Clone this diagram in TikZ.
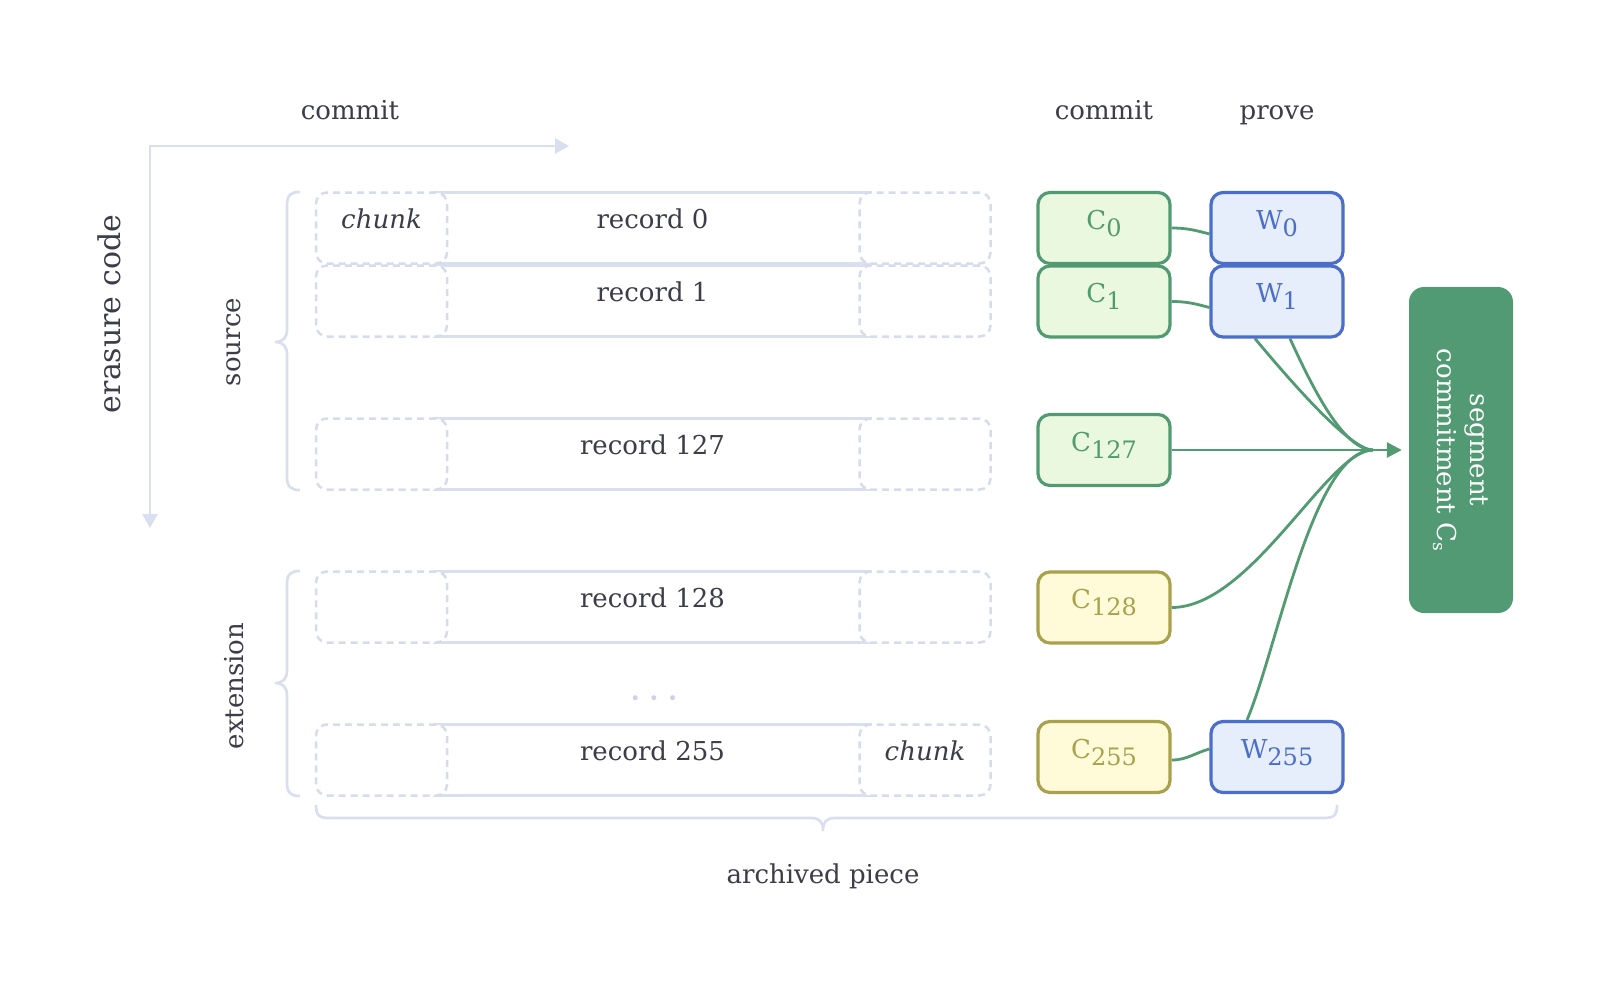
\documentclass[tikz,border=0pt]{standalone}
\usepackage{fontspec}
\setmainfont{DejaVu Serif}
\usetikzlibrary{arrows.meta,calc,backgrounds}
\definecolor{ink}{HTML}{3C3D48}
\definecolor{pale}{HTML}{D9DFEF}
\definecolor{paledash}{HTML}{D6DCEC}
\definecolor{dotc}{HTML}{CDD3E6}
\definecolor{gdraw}{HTML}{529A72}
\definecolor{gfill}{HTML}{EBF8E0}
\definecolor{bdraw}{HTML}{4C6ECB}
\definecolor{bfill}{HTML}{E6EEFC}
\definecolor{ydraw}{HTML}{A9A14B}
\definecolor{yfill}{HTML}{FFFBD9}
\definecolor{segc}{HTML}{519A73}
\newcommand{\sub}[1]{\raisebox{-7pt}{\fontsize{24}{24}\selectfont #1}}
\begin{document}
\begin{tikzpicture}[x=1pt,y=1pt,
  lbl/.style={text=ink, font=\fontsize{26}{30}\selectfont, inner sep=0pt},
  recbox/.style={draw=pale, line width=2.7pt, minimum width=437pt, minimum height=71pt, inner sep=0pt,
     text=ink, text height=10pt, text depth=10pt, font=\fontsize{26}{30}\selectfont},
  chunkbox/.style={draw=paledash, line width=2.5pt, dash pattern=on 7pt off 5pt, fill=white,
     rounded corners=11pt, minimum width=131pt, minimum height=71pt, inner sep=0pt,
     text=ink, text height=10pt, text depth=10pt, font=\fontsize{26}{30}\selectfont\itshape},
  cbox/.style={rounded corners=12pt, line width=3.2pt, minimum width=132pt, minimum height=71pt,
     inner sep=0pt, text height=12pt, text depth=10pt, font=\fontsize{26}{30}\selectfont},
  gbox/.style={cbox, draw=gdraw, fill=gfill, text=gdraw},
  bbox/.style={cbox, draw=bdraw, fill=bfill, text=bdraw},
  ybox/.style={cbox, draw=ydraw, fill=yfill, text=ydraw},
  conn/.style={draw=gdraw, line width=2.8pt},
  paleline/.style={draw=pale, line width=2.7pt},
]
\useasboundingbox (0,0) rectangle (1600,-986);

% axes
\draw[paleline, {Triangle[length=14pt,width=15pt]}-{Triangle[length=14pt,width=15pt]}]
  (569,-146) -- (150,-146) -- (150,-528);
\node[lbl, anchor=base] (commitL) at (350,-119) {commit};
\node[lbl, font=\fontsize{30}{34}\selectfont, rotate=90] (erasure) at (109,-314) {erasure code};
\node[lbl, rotate=90] (source) at (234,-342) {source};
\node[lbl, rotate=90] (extension) at (234,-686) {extension};
\node[lbl, anchor=base] (commitR) at (1104,-119) {commit};
\node[lbl, anchor=base] (prove) at (1277,-119) {prove};
\node[lbl] (archived) at (823,-876) {archived piece};

% braces
\draw[paleline] (300,-192) .. controls (291,-192) and (287,-195) .. (287,-205) -- (287,-329)
  .. controls (287,-338) and (283,-342) .. (275,-342)
  .. controls (283,-342) and (287,-346) .. (287,-355) -- (287,-477)
  .. controls (287,-487) and (291,-490) .. (300,-490);
\draw[paleline] (300,-571) .. controls (291,-571) and (287,-574) .. (287,-584) -- (287,-670)
  .. controls (287,-679) and (283,-683) .. (275,-683)
  .. controls (283,-683) and (287,-687) .. (287,-696) -- (287,-783)
  .. controls (287,-793) and (291,-796) .. (300,-796);
\draw[paleline] (316,-805) .. controls (316,-815) and (319,-818) .. (329,-818) -- (811,-818)
  .. controls (820,-818) and (823,-822) .. (823,-831)
  .. controls (823,-822) and (826,-818) .. (835,-818) -- (1324,-818)
  .. controls (1334,-818) and (1337,-815) .. (1337,-805);

% records
\node[recbox] (r0) at (652.5,-228) {record 0};
\node[recbox] (r1) at (652.5,-301) {record 1};
\node[recbox] (r127) at (652.5,-454) {record 127};
\node[recbox] (r128) at (652.5,-607) {record 128};
\node[recbox] (r255) at (652.5,-760) {record 255};
\node[chunkbox] (l0) at (381.5,-228) {chunk};
\node[chunkbox] (e0) at (925,-228) {};
\node[chunkbox] (l1) at (381.5,-301) {};
\node[chunkbox] (e1) at (925,-301) {};
\node[chunkbox] (l127) at (381.5,-454) {};
\node[chunkbox] (e127) at (925,-454) {};
\node[chunkbox] (l128) at (381.5,-607) {};
\node[chunkbox] (e128) at (925,-607) {};
\node[chunkbox] (l255) at (381.5,-760) {};
\node[chunkbox] (e255) at (925,-760) {chunk};
\node[text=dotc, font=\fontsize{17}{17}\selectfont, inner sep=0pt] (dots) at (654,-700)
  {\textbullet\hspace{8.5pt}\textbullet\hspace{8.5pt}\textbullet};

% segment commitment
\node[fill=segc, rounded corners=15pt, rotate=-90, minimum width=326pt, minimum height=104pt,
  inner sep=0pt, text=white, align=center, font=\fontsize{26}{33}\selectfont] (seg) at (1461,-450)
  {segment\\commitment C\raisebox{-4pt}{\fontsize{17}{17}\selectfont s}};
\coordinate (hub) at (1373,-450);

% commitment and proof boxes
\node[gbox] (C0) at (1104,-228) {C\sub{0}};
\node[gbox] (C1) at (1104,-301.5) {C\sub{1}};
\node[gbox] (C127) at (1104,-450) {C\sub{127}};
\node[ybox] (C128) at (1104,-607.5) {C\sub{128}};
\node[ybox] (C255) at (1104,-757) {C\sub{255}};
\node[bbox] (W0) at (1277,-228) {W\sub{0}};
\node[bbox] (W1) at (1277,-301.5) {W\sub{1}};
\node[bbox] (W255) at (1277,-757) {W\sub{255}};

% connectors (under the boxes)
\begin{pgfonlayer}{background}
\fill[white] (0,0) rectangle (1600,-986);
\draw[conn] ($(W1.south)+(-22,0)$) .. controls +(40,-48) and +(-22,0) .. (hub);
\draw[conn] ($(W1.south)+(13,0)$) .. controls +(22,-48) and +(-30,0) .. (hub);
\draw[conn] (C128.east) .. controls +(80,0) and +(-45,0) .. (hub);
\draw[conn] ($(W255.north)+(-30,0)$) .. controls +(30,70) and +(-60,0) .. (hub);
\draw[conn, -{Triangle[length=15pt,width=15pt]}, shorten >=7pt] (C127.east) -- (seg.south);
\draw[conn] (C0.east) to[out=0,in=165] ($(W0.west)+(0,-6)$);
\draw[conn] (C1.east) to[out=0,in=165] ($(W1.west)+(0,-6)$);
\draw[conn] ($(C255.east)+(0,-3)$) to[out=0,in=195] ($(W255.west)+(0,8)$);
\end{pgfonlayer}
\end{tikzpicture}
\end{document}
